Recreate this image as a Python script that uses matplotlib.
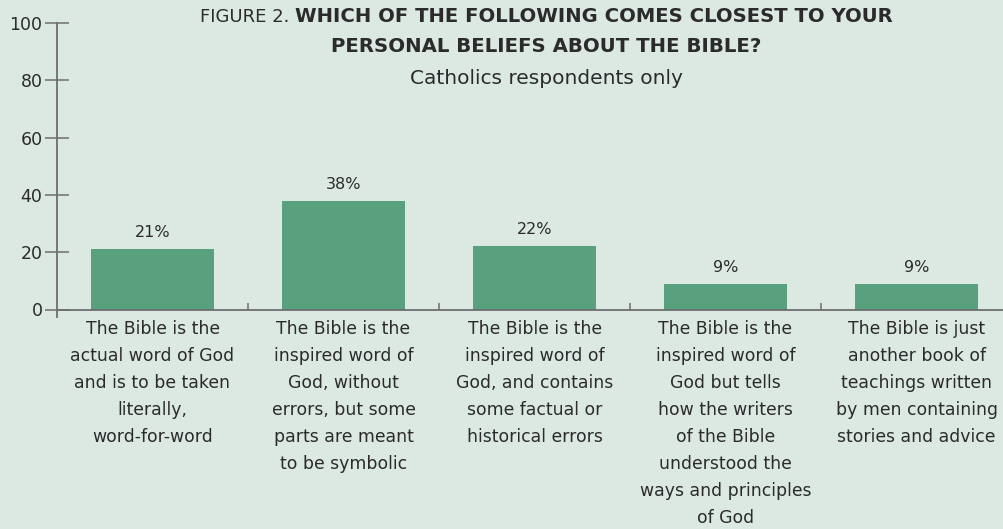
import matplotlib

matplotlib.use("Agg")
import matplotlib.pyplot as plt
from matplotlib.lines import Line2D

plt.rcParams["font.family"] = ["DejaVu Sans"]

BG = "#dce9e2"
BAR = "#58a07e"
TEXT = "#2b2b2b"
AXIS = "#6e6e6e"

categories = [
    "The Bible is the\nactual word of God\nand is to be taken\nliterally,\nword-for-word",
    "The Bible is the\ninspired word of\nGod, without\nerrors, but some\nparts are meant\nto be symbolic",
    "The Bible is the\ninspired word of\nGod, and contains\nsome factual or\nhistorical errors",
    "The Bible is the\ninspired word of\nGod but tells\nhow the writers\nof the Bible\nunderstood the\nways and principles\nof God",
    "The Bible is just\nanother book of\nteachings written\nby men containing\nstories and advice",
]
values = [21, 38, 22, 9, 9]
yticks = [0, 20, 40, 60, 80, 100]

W, H = 1004, 529
fig = plt.figure(figsize=(W / 100, H / 100), dpi=100, facecolor=BG)
ax = fig.add_axes([57 / W, 1 - 309.5 / H, 955 / W, 286.5 / H])
ax.set_facecolor(BG)

x = list(range(len(values)))
ax.bar(x, values, width=0.644, color=BAR, zorder=2)
for xi, v in zip(x, values):
    ax.annotate(f"{v}%", (xi, v), xytext=(0, 6.5), textcoords="offset points",
                ha="center", va="bottom", fontsize=11.5, color=TEXT)

ax.set_xlim(-0.5, len(values) - 0.5)
ax.set_ylim(0, 100)
for s in ["top", "right"]:
    ax.spines[s].set_visible(False)
ax.spines["left"].set_color(AXIS)
ax.spines["bottom"].set_color(AXIS)
ax.spines["left"].set_linewidth(1.3)
ax.spines["bottom"].set_linewidth(1.3)

# left spine runs a bit below zero
ax.add_line(Line2D([0, 0], [0, -0.025], transform=ax.transAxes, color=AXIS,
                   lw=1.3, clip_on=False))

ax.set_yticks(yticks)
ax.set_yticklabels([str(t) for t in yticks])
ax.tick_params(axis="y", direction="inout", length=17, width=1.1, color=AXIS,
               labelsize=12.5, labelcolor=TEXT, pad=2)

ax.set_xticks(x)
ax.set_xticklabels(categories, fontsize=12.4, color=TEXT, linespacing=1.64,
                   va="top", ha="center")
ax.set_xticks([i + 0.5 for i in x[:-1]], minor=True)
ax.tick_params(axis="x", which="major", length=0, pad=7.5)
ax.tick_params(axis="x", which="minor", direction="in", length=5, width=1.1,
               color=AXIS)

# title: regular prefix + bold text, centered together
cx = 546 / W
t1a = fig.text(0, 1 - 17 / H, "FIGURE 2. ", fontsize=13, color=TEXT, va="center")
t1b = fig.text(0, 1 - 17 / H, "WHICH OF THE FOLLOWING COMES CLOSEST TO YOUR",
               fontsize=14.1, fontweight="bold", color=TEXT, va="center")
fig.canvas.draw()
r = fig.canvas.get_renderer()
wa = t1a.get_window_extent(r).width / W
wb = t1b.get_window_extent(r).width / W
start = cx - (wa + wb) / 2
t1a.set_x(start)
t1b.set_x(start + wa)
fig.text(cx, 1 - 47 / H, "PERSONAL BELIEFS ABOUT THE BIBLE?", fontsize=14.2,
         fontweight="bold", color=TEXT, ha="center", va="center")
fig.text(cx, 1 - 78 / H, "Catholics respondents only", fontsize=14.5, color=TEXT,
         ha="center", va="center")

fig.savefig("out.png", dpi=100, facecolor=BG)
